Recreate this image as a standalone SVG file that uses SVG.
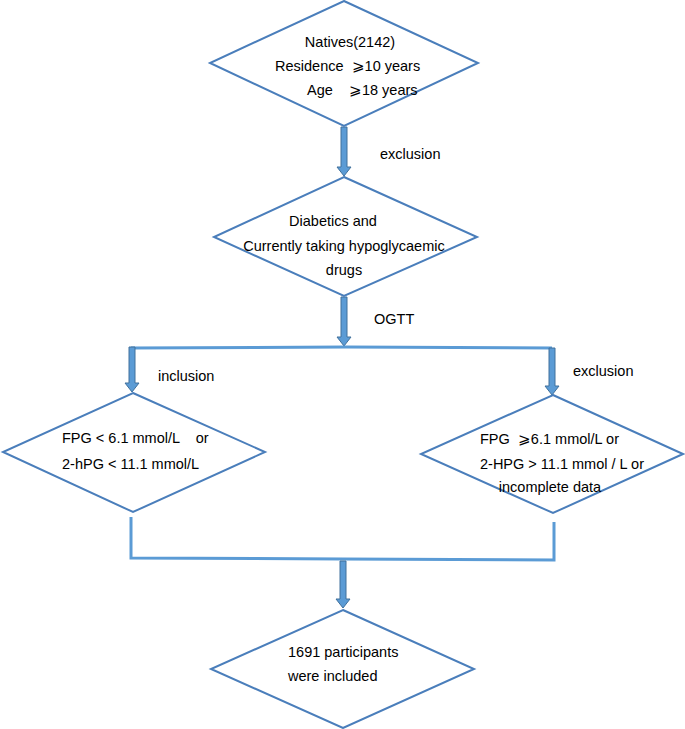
<svg xmlns="http://www.w3.org/2000/svg" width="685" height="729" viewBox="0 0 685 729">
<style>
.d{fill:#fff;stroke:#4a7ebb;stroke-width:2}
.t{font-family:"Liberation Sans",Arial,sans-serif;font-size:14.5px;fill:#000;white-space:pre}
.ln{fill:none;stroke:#5b9bd5;stroke-width:3}
.ar{fill:#5b9bd5;stroke:#41719c;stroke-width:1}
</style>
<rect width="685" height="729" fill="#fff"/>
<g id="connectors">
<path class="ar" d="M341,127 L347,127 L347,167 L351,167 L344,176 L337,167 L341,167 Z"/>
<path class="ar" d="M341,297 L347,297 L347,337 L351,337 L344,346 L337,337 L341,337 Z"/>
<polyline class="ln" points="131,348 346,347 552,348"/>
<path class="ar" d="M129,347 L135,347 L135,383 L139,383 L132,392 L125,383 L129,383 Z"/>
<path class="ar" d="M549,348 L555,348 L555,386 L559,386 L552,395 L545,386 L549,386 Z"/>
<polyline class="ln" points="131,517 131,558 343,559 554,560 554,522"/>
<path class="ar" d="M340,561 L346,561 L346,599 L350,599 L343,608 L336,599 L340,599 Z"/>
<text class="t" x="380" y="159">exclusion</text>
<text class="t" x="374" y="324">OGTT</text>
<text class="t" x="158" y="381">inclusion</text>
<text class="t" x="573" y="376">exclusion</text>
</g>
<g id="n1">
<polygon class="d" points="344,1 478,63 344,126 210,63"/>
<text class="t" x="350" y="47" text-anchor="middle">Natives(2142)</text>
<text class="t" x="275" y="71" xml:space="preserve">Residence  ⩾10 years</text>
<text class="t" x="307" y="95" xml:space="preserve">Age    ⩾18 years</text>
</g>
<g id="n2">
<polygon class="d" points="344,177 477,237 344,296 214,237"/>
<text class="t" x="333" y="226" text-anchor="middle">Diabetics and</text>
<text class="t" x="344" y="251" text-anchor="middle">Currently taking hypoglycaemic</text>
<text class="t" x="344" y="275" text-anchor="middle">drugs</text>
</g>
<g id="n3">
<polygon class="d" points="133,393 265,452 133,512 3,452"/>
<text class="t" x="62" y="443" xml:space="preserve">FPG &lt; 6.1 mmol/L    or</text>
<text class="t" x="62" y="469">2-hPG &lt; 11.1 mmol/L</text>
</g>
<g id="n4">
<polygon class="d" points="553,395 683,454 553,513 421,454"/>
<text class="t" x="480" y="444" xml:space="preserve">FPG  ⩾6.1 mmol/L or</text>
<text class="t" x="480" y="469">2-HPG &gt; 11.1 mmol / L or</text>
<text class="t" x="550" y="492" text-anchor="middle">incomplete data</text>
</g>
<g id="n5">
<polygon class="d" points="343,610 474,669 343,728 211,669"/>
<text class="t" x="288" y="657">1691 participants</text>
<text class="t" x="288" y="681">were included</text>
</g>
</svg>
